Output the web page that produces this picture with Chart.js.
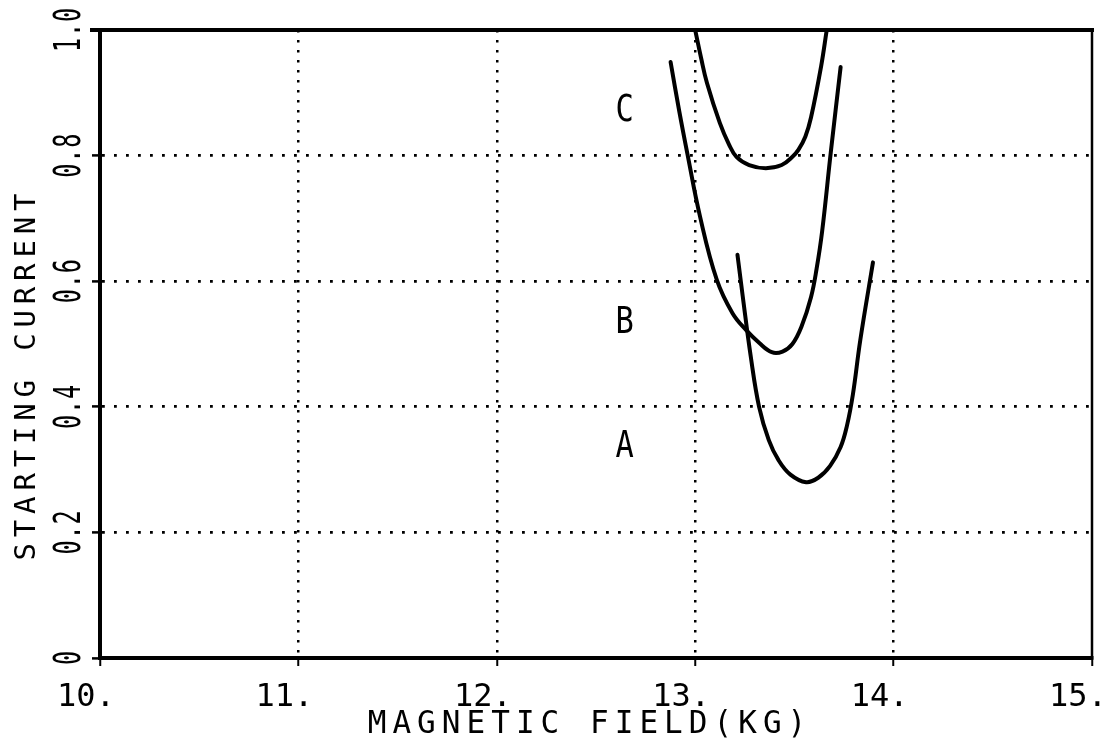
<!DOCTYPE html>
<html>
<head>
<meta charset="utf-8">
<script src="https://cdn.jsdelivr.net/npm/chart.js@4/dist/chart.umd.min.js"></script>
<style>
  html, body { margin: 0; padding: 0; background: #fff; }
  #wrap { width: 1113px; height: 743px; position: relative; }
</style>
</head>
<body>
<div id="wrap"><canvas id="c" width="1113" height="743"></canvas></div>
<script>
// ---- data ----
const xTickValues = [10, 11, 12, 13, 14, 15];
const xTickLabels = ['10.', '11.', '12.', '13.', '14.', '15.'];
const yTickValues = [0, 0.2, 0.4, 0.6, 0.8, 1.0];
const yTickLabels = ['0', '0.2', '0.4', '0.6', '0.8', '1.0'];

const curveA_x = [13.213, 13.240, 13.280, 13.322, 13.371, 13.420, 13.480, 13.559, 13.620, 13.680, 13.733, 13.765, 13.795, 13.832, 13.896];
const curveA_y = [0.642, 0.575, 0.480, 0.400, 0.347, 0.315, 0.292, 0.280, 0.287, 0.306, 0.336, 0.370, 0.420, 0.506, 0.630];

const curveB_x = [12.876, 12.920, 12.960, 13.025, 13.109, 13.188, 13.257, 13.322, 13.386, 13.440, 13.490, 13.535, 13.584, 13.612, 13.640, 13.683, 13.733];
const curveB_y = [0.949, 0.870, 0.804, 0.702, 0.602, 0.549, 0.522, 0.502, 0.487, 0.488, 0.500, 0.527, 0.575, 0.620, 0.680, 0.804, 0.941];

const curveC_x = [13.000, 13.030, 13.059, 13.124, 13.170, 13.208, 13.272, 13.356, 13.436, 13.490, 13.520, 13.555, 13.584, 13.634, 13.663];
const curveC_y = [1.000, 0.955, 0.916, 0.852, 0.818, 0.798, 0.785, 0.780, 0.785, 0.798, 0.809, 0.830, 0.861, 0.941, 1.000];

const curveNames = ['A', 'B', 'C'];
const curveLabelX = [12.644, 12.644, 12.644];
const curveLabelY = [0.342, 0.540, 0.877];

const xTitle = 'MAGNETIC FIELD(KG)';
const yTitle = 'STARTING CURRENT';

// ---- helpers ----
const FONT = '"DejaVu Sans Mono", "Liberation Mono", monospace';
function pts(xs, ys) { return xs.map((x, i) => ({ x: x, y: ys[i] })); }

function drawSpaced(ctx, str, x, y, o) {
  ctx.save();
  ctx.translate(x, y);
  ctx.rotate(o.rot || 0);
  const total = str.length * o.pitch;
  const start = o.align === 'center' ? -total / 2 : 0;
  ctx.font = o.size + 'px ' + FONT;
  ctx.textAlign = 'center';
  ctx.textBaseline = 'alphabetic';
  ctx.fillStyle = '#000';
  for (let i = 0; i < str.length; i++) {
    ctx.save();
    ctx.translate(start + (i + 0.5) * o.pitch, 0);
    ctx.scale(o.sx || 1, o.sy || 1);
    ctx.fillText(str[i], 0, 0);
    ctx.restore();
  }
  ctx.restore();
}

const decor = {
  id: 'decor',
  afterDraw(chart) {
    const ctx = chart.ctx;
    const a = chart.chartArea;
    const xs = chart.scales.x, ys = chart.scales.y;
    // frame top and right
    ctx.save();
    ctx.strokeStyle = '#000';
    ctx.lineCap = 'square';
    ctx.lineWidth = 4;
    ctx.beginPath(); ctx.moveTo(a.left - 8, a.top); ctx.lineTo(a.right, a.top); ctx.stroke();
    ctx.lineWidth = 2.5;
    ctx.beginPath(); ctx.moveTo(a.right, a.top); ctx.lineTo(a.right, a.bottom); ctx.stroke();
    ctx.restore();
    // y tick labels (rotated)
    yTickValues.forEach((v, i) => {
      drawSpaced(ctx, yTickLabels[i], 80, ys.getPixelForValue(v),
        { rot: -Math.PI / 2, size: 38, pitch: 15, sx: 0.62, align: 'center' });
    });
    // curve labels
    curveNames.forEach((n, i) => {
      const px = xs.getPixelForValue(curveLabelX[i]);
      const py = ys.getPixelForValue(curveLabelY[i]);
      drawSpaced(ctx, n, px, py + 14, { size: 38, pitch: 18, sx: 0.8, align: 'center' });
    });
    // axis titles
    drawSpaced(ctx, xTitle, 587, 733, { size: 31, pitch: 24.7, sx: 1, sy: 1.05, align: 'center' });
    drawSpaced(ctx, yTitle, 35, 377, { rot: -Math.PI / 2, size: 29, pitch: 23.3, sx: 1, align: 'center' });
  }
};

const lineStyle = {
  borderColor: '#000', backgroundColor: '#000', borderWidth: 4,
  pointRadius: 0, fill: false, tension: 0.4,
  borderCapStyle: 'round', borderJoinStyle: 'round'
};

new Chart(document.getElementById('c'), {
  type: 'line',
  data: {
    datasets: [
      Object.assign({ label: 'A', data: pts(curveA_x, curveA_y) }, lineStyle),
      Object.assign({ label: 'B', data: pts(curveB_x, curveB_y) }, lineStyle),
      Object.assign({ label: 'C', data: pts(curveC_x, curveC_y) }, lineStyle)
    ]
  },
  options: {
    responsive: false,
    animation: false,
    devicePixelRatio: 1,
    layout: { padding: { left: 0, right: 21, top: 30, bottom: 0 } },
    plugins: { legend: { display: false }, tooltip: { enabled: false }, title: { display: false } },
    scales: {
      x: {
        type: 'linear', min: 10, max: 15,
        afterBuildTicks: s => { s.ticks = xTickValues.map(v => ({ value: v })); },
        afterFit: s => { s.height = 85; s.paddingLeft = 0; s.paddingRight = 0; },
        ticks: {
          color: '#000', font: { family: FONT, size: 32 }, padding: 12, labelOffset: -14,
          maxRotation: 0, minRotation: 0,
          callback: (v) => { const i = xTickValues.indexOf(v); return i >= 0 ? xTickLabels[i] : ''; }
        },
        grid: {
          color: c => (c.tick && (c.tick.value === 10 || c.tick.value === 15)) ? 'rgba(0,0,0,0)' : '#000',
          lineWidth: 2.5, tickLength: 8,
          tickColor: '#000', tickWidth: 2, tickBorderDash: []
        },
        border: { display: true, color: '#000', width: 4, dash: [2.5, 7.5] }
      },
      y: {
        type: 'linear', min: 0, max: 1,
        afterBuildTicks: s => { s.ticks = yTickValues.map(v => ({ value: v })); },
        afterFit: s => { s.width = 100; s.paddingTop = 0; s.paddingBottom = 0; },
        ticks: { display: false },
        grid: {
          color: c => (c.tick && (c.tick.value === 0 || c.tick.value === 1)) ? 'rgba(0,0,0,0)' : '#000',
          lineWidth: 2.8, tickLength: 8,
          tickColor: '#000', tickWidth: 2.5, tickBorderDash: []
        },
        border: { display: true, color: '#000', width: 4, dash: [2.8, 9.2] }
      }
    }
  },
  plugins: [decor]
});
</script>
</body>
</html>
